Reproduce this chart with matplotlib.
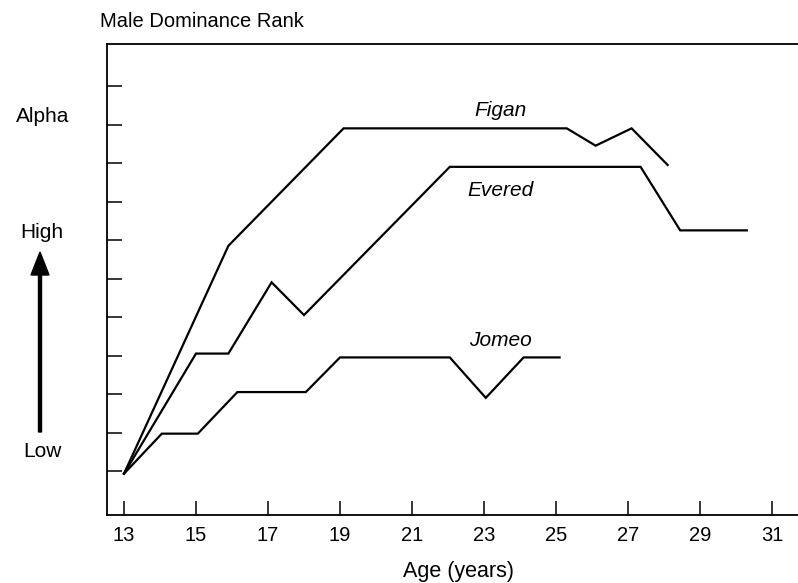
import matplotlib
matplotlib.use("Agg")
import matplotlib.pyplot as plt

plt.rcParams['font.family'] = ['Liberation Sans', 'DejaVu Sans']

# Data (age in years, rank in tick units above "Low")
figan_age = [13, 15.9, 19.1, 25.3, 26.1, 27.1, 28.1]
figan_rank = [-0.07, 5.85, 8.9, 8.9, 8.45, 8.9, 7.95]

evered_age = [13, 15.0, 15.9, 17.1, 18.0, 22.05, 27.35, 28.45, 30.3]
evered_rank = [-0.07, 3.05, 3.05, 4.9, 4.05, 7.9, 7.9, 6.25, 6.25]

jomeo_age = [13, 14.05, 15.05, 16.15, 18.05, 19.0, 22.05, 23.05, 24.1, 25.1]
jomeo_rank = [-0.07, 0.97, 0.97, 2.05, 2.05, 2.95, 2.95, 1.9, 2.95, 2.95]

x_ticks = [13, 15, 17, 19, 21, 23, 25, 27, 29, 31]
y_ticks = list(range(0, 11))

W, H = 798, 583
fig = plt.figure(figsize=(W / 100, H / 100), dpi=100)
# axes box in pixels: left 107, top 44, bottom 515, right beyond the image
left, top, bottom, right = 107, 44, 515, 830
ax = fig.add_axes([left / W, 1 - bottom / H, (right - left) / W, (bottom - top) / H])

# x: 36 px per year, 13 at px 124 ; y: 38.5 px per level, 0 at px 471
ax.set_xlim(13 - (124 - left) / 36, 13 + (right - 124) / 36)
ax.set_ylim(-(bottom - 471) / 38.5, (471 - top) / 38.5)

lw = 1.6
for a, r in [(figan_age, figan_rank), (evered_age, evered_rank), (jomeo_age, jomeo_rank)]:
    ax.plot(a, r, color='black', lw=lw, solid_joinstyle='miter')

ax.spines['right'].set_visible(False)
for s in ['left', 'bottom', 'top']:
    ax.spines[s].set_linewidth(1.3)

ax.set_xticks(x_ticks)
ax.set_xticklabels([str(t) for t in x_ticks], fontsize=14.5)
ax.set_yticks(y_ticks)
ax.set_yticklabels([])
ax.tick_params(axis='x', direction='in', length=10, width=1.1, pad=8)
ax.tick_params(axis='y', direction='in', length=11, width=1.1)

# series labels (centred at measured midpoints)
ax.text(23.47, 9.22, 'Figan', style='italic', fontsize=15, ha='center', va='baseline')
ax.text(23.47, 7.14, 'Evered', style='italic', fontsize=15, ha='center', va='baseline')
ax.text(23.47, 3.25, 'Jomeo', style='italic', fontsize=15, ha='center', va='baseline')

def fx(px):
    return px / W

def fy(py):
    return 1 - py / H

fig.text(fx(201.7), fy(26.7), 'Male Dominance Rank', fontsize=14.5, ha='center', va='baseline')
fig.text(fx(42.2), fy(121.7), 'Alpha', fontsize=15, ha='center', va='baseline')
fig.text(fx(42), fy(238), 'High', fontsize=15, ha='center', va='baseline')
fig.text(fx(42), fy(457), 'Low', fontsize=15, ha='center', va='baseline')
fig.text(fx(458.4), fy(576.7), 'Age (years)', fontsize=15.5, ha='center', va='baseline')

fig.patches.append(matplotlib.patches.FancyArrow(
    fx(40), fy(432), 0, fy(252) - fy(432), width=2.2 / H, head_width=18 / W,
    head_length=23 / H, length_includes_head=True, color='black',
    transform=fig.transFigure, figure=fig))

fig.savefig('out.png', dpi=100)
